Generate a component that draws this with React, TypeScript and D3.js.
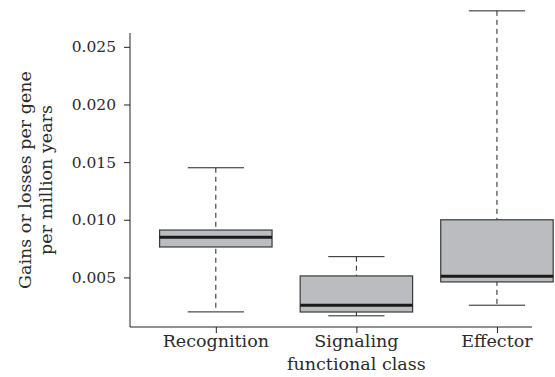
import React, { useEffect, useRef } from "react";
import { select, scaleLinear, scalePoint, axisLeft, axisBottom } from "d3";

// functional classes along the x axis
const categories = ["Recognition", "Signaling", "Effector"];
// five-number summaries
const lowerWhisker = [0.00201, 0.00167, 0.00259];
const q1 = [0.00764, 0.002, 0.00461];
const medians = [0.00848, 0.00259, 0.0051];
const q3 = [0.00911, 0.00513, 0.01];
const upperWhisker = [0.01451, 0.0068, 0.02812];
const yTicks = [0.005, 0.01, 0.015, 0.02, 0.025];

const W = 555;
const H = 377;
const FONT = "'DejaVu Serif', serif";

function BoxPlot() {
  const svgRef = useRef<SVGSVGElement>(null);

  useEffect(() => {
    const svg = select(svgRef.current);
    svg.selectAll("*").remove();

    const left = 130, right = 532, top = 33, bottom = 327;

    const x = scalePoint<string>()
      .domain(categories)
      .range([left, right])
      .padding(0.43)
      .align(0.71);
    const y = scaleLinear().domain([0.0007, 0.0262]).range([bottom, top]);

    const boxW = x.step() * 0.8;
    const capW = boxW / 2;

    const rows = categories.map((c, i) => ({
      c,
      lo: lowerWhisker[i],
      q1: q1[i],
      med: medians[i],
      q3: q3[i],
      hi: upperWhisker[i],
    }));

    // y axis
    const yAxis = axisLeft(y)
      .tickValues(yTicks)
      .tickFormat((d) => (+d).toFixed(3))
      .tickSize(6)
      .tickPadding(8)
      .tickSizeOuter(0);
    const gy = svg.append("g").attr("transform", `translate(${left},0)`).call(yAxis);
    gy.select(".domain").remove();
    gy.selectAll("line").attr("stroke", "#222");
    gy.selectAll("text")
      .attr("font-family", FONT)
      .attr("font-size", 15.5)
      .attr("fill", "#2a2a2a");
    svg.append("line")
      .attr("x1", left).attr("x2", left)
      .attr("y1", top).attr("y2", bottom)
      .attr("stroke", "#222");

    // x axis
    const xAxis = axisBottom(x).tickSize(6).tickSizeOuter(0).tickFormat(() => "");
    const gx = svg.append("g").attr("transform", `translate(0,${bottom})`).call(xAxis);
    gx.select(".domain").remove();
    gx.selectAll("line").attr("stroke", "#222");
    svg.append("line")
      .attr("x1", left).attr("x2", right)
      .attr("y1", bottom).attr("y2", bottom)
      .attr("stroke", "#222");

    svg.selectAll(".xlabel")
      .data(categories)
      .join("text")
      .attr("class", "xlabel")
      .attr("x", (d) => x(d)!)
      .attr("y", bottom + 20)
      .attr("text-anchor", "middle")
      .attr("font-family", FONT)
      .attr("font-size", 17.5)
      .attr("fill", "#2a2a2a")
      .text((d) => d);

    svg.append("text")
      .attr("x", x(categories[1])!)
      .attr("y", bottom + 43)
      .attr("text-anchor", "middle")
      .attr("font-family", FONT)
      .attr("font-size", 17.5)
      .attr("fill", "#2a2a2a")
      .text("functional class");

    // y title, two lines
    const title = svg.append("text")
      .attr("transform", `translate(31,180) rotate(-90)`)
      .attr("text-anchor", "middle")
      .attr("font-family", FONT)
      .attr("font-size", 17.5)
      .attr("fill", "#2a2a2a");
    title.append("tspan").attr("x", 0).attr("y", 0).text("Gains or losses per gene");
    title.append("tspan").attr("x", 0).attr("y", 21).text("per million years");

    // boxes
    const g = svg.selectAll(".box").data(rows).join("g").attr("class", "box");

    g.append("line")
      .attr("x1", (d) => x(d.c)!).attr("x2", (d) => x(d.c)!)
      .attr("y1", (d) => y(d.hi)).attr("y2", (d) => y(d.lo))
      .attr("stroke", "#222")
      .attr("stroke-dasharray", "5,4");

    g.append("line")
      .attr("x1", (d) => x(d.c)! - capW / 2).attr("x2", (d) => x(d.c)! + capW / 2)
      .attr("y1", (d) => y(d.hi)).attr("y2", (d) => y(d.hi))
      .attr("stroke", "#222");
    g.append("line")
      .attr("x1", (d) => x(d.c)! - capW / 2).attr("x2", (d) => x(d.c)! + capW / 2)
      .attr("y1", (d) => y(d.lo)).attr("y2", (d) => y(d.lo))
      .attr("stroke", "#222");

    g.append("rect")
      .attr("x", (d) => x(d.c)! - boxW / 2)
      .attr("width", boxW)
      .attr("y", (d) => y(d.q3))
      .attr("height", (d) => y(d.q1) - y(d.q3))
      .attr("fill", "#bbbcc0")
      .attr("stroke", "#3a3a3a")
      .attr("stroke-width", 1.2);

    g.append("line")
      .attr("x1", (d) => x(d.c)! - boxW / 2).attr("x2", (d) => x(d.c)! + boxW / 2)
      .attr("y1", (d) => y(d.med)).attr("y2", (d) => y(d.med))
      .attr("stroke", "#1a1a1a")
      .attr("stroke-width", 3);
  }, []);

  return (
    <svg
      ref={svgRef}
      width={W}
      height={H}
      style={{ position: "absolute", left: 0, top: 0, background: "#fff" }}
    />
  );
}

export default function App() {
  return <BoxPlot />;
}
